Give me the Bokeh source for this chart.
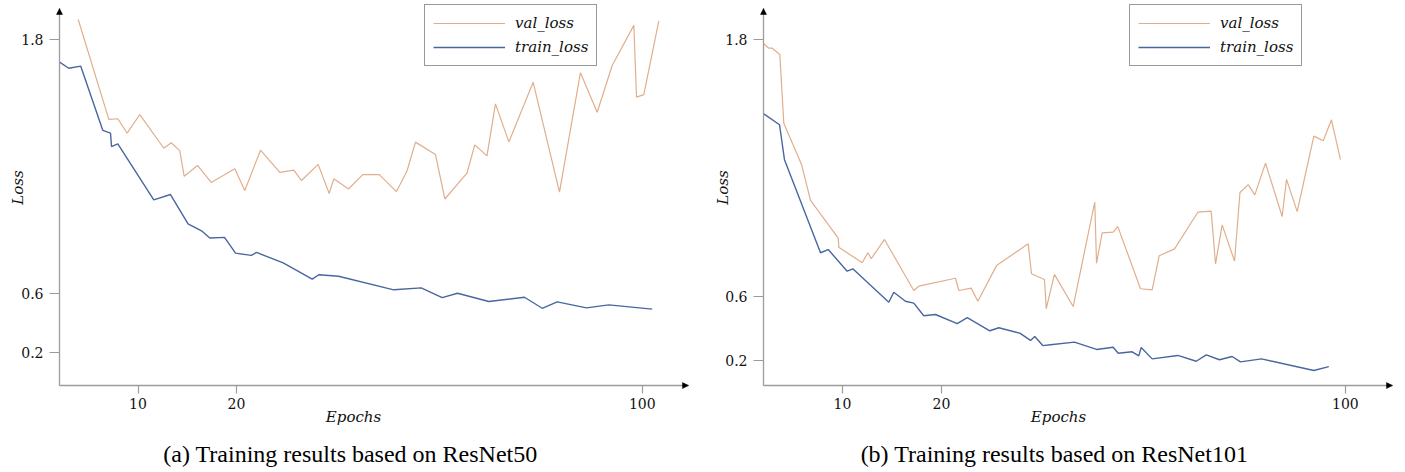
from bokeh.plotting import figure
from bokeh.models import (FixedTicker, Legend, LegendItem, Label, Arrow, NormalHead,
                          Range1d, LinearAxis)
from bokeh.layouts import row
from bokeh.embed import file_html
from bokeh.resources import INLINE
import math

# ---------------- data ----------------
r50_val_epoch = [3.93, 7.04, 7.95, 8.90, 10.18, 12.62, 13.37, 14.24, 14.69, 16.04, 17.43, 19.83,
                 20.84, 22.44, 24.40, 25.82, 26.60, 28.29, 29.41, 29.88, 31.37, 32.82, 34.50, 36.24,
                 37.31, 38.17, 40.20, 41.15, 43.40, 44.19, 45.43, 46.29, 47.65, 50.12, 52.79, 54.92,
                 56.62, 58.14, 60.34, 60.61, 61.35, 62.87]
r50_val_loss = [1.893, 1.422, 1.425, 1.357, 1.445, 1.286, 1.312, 1.275, 1.154, 1.205, 1.125, 1.189,
                1.087, 1.277, 1.172, 1.183, 1.134, 1.210, 1.073, 1.142, 1.094, 1.162, 1.162, 1.082,
                1.179, 1.315, 1.257, 1.047, 1.169, 1.302, 1.250, 1.495, 1.316, 1.597, 1.079, 1.642,
                1.456, 1.676, 1.865, 1.527, 1.539, 1.885]
r50_train_epoch = [2.00, 2.97, 4.19, 6.43, 7.21, 7.31, 7.95, 11.60, 13.30, 15.08, 16.45, 17.29,
                   18.78, 19.90, 21.50, 22.03, 24.74, 27.69, 28.36, 30.36, 35.97, 38.75, 40.88,
                   42.44, 45.61, 49.24, 51.04, 52.56, 55.53, 57.80, 62.20]
r50_train_loss = [1.693, 1.663, 1.673, 1.370, 1.357, 1.294, 1.307, 1.043, 1.068, 0.930, 0.897, 0.863,
                  0.866, 0.792, 0.781, 0.795, 0.746, 0.669, 0.690, 0.683, 0.619, 0.628, 0.582,
                  0.603, 0.564, 0.584, 0.532, 0.562, 0.534, 0.548, 0.528]

r101_val_epoch = [2.05, 2.56, 2.90, 3.67, 4.07, 5.86, 6.77, 9.57, 9.63, 11.99, 12.56, 12.90, 14.24,
                  17.20, 17.71, 21.41, 21.75, 23.00, 23.67, 25.56, 28.76, 29.09, 30.40, 30.58, 31.41,
                  33.30, 35.48, 35.66, 36.23, 37.34, 37.81, 40.10, 41.28, 41.99, 43.54, 45.89, 47.24,
                  47.68, 48.35, 49.60, 50.15, 50.98, 51.65, 52.73, 54.41, 54.85, 55.93, 57.61, 58.56,
                  59.39, 60.30]
r101_val_loss = [1.779, 1.758, 1.758, 1.729, 1.408, 1.216, 1.048, 0.872, 0.830, 0.757, 0.804, 0.776,
                 0.866, 0.628, 0.648, 0.685, 0.628, 0.639, 0.578, 0.744, 0.846, 0.706, 0.679, 0.543,
                 0.703, 0.553, 1.040, 0.755, 0.897, 0.900, 0.926, 0.636, 0.631, 0.790, 0.822, 0.993,
                 0.998, 0.752, 0.934, 0.765, 1.085, 1.122, 1.074, 1.222, 0.973, 1.146, 0.996, 1.348,
                 1.326, 1.424, 1.238]
r101_train_epoch = [2.05, 3.64, 4.14, 7.78, 8.56, 10.47, 11.04, 14.68, 15.18, 16.36, 17.20, 18.21,
                    19.39, 21.59, 22.60, 24.88, 25.79, 27.91, 28.99, 29.42, 30.23, 31.01, 33.43,
                    35.66, 37.34, 37.85, 39.26, 39.93, 40.17, 41.28, 43.87, 45.73, 46.74, 48.08,
                    49.36, 50.20, 52.32, 57.61, 59.12]
r101_train_loss = [1.452, 1.401, 1.238, 0.804, 0.819, 0.718, 0.729, 0.573, 0.620, 0.578, 0.569, 0.510,
                   0.516, 0.473, 0.501, 0.440, 0.454, 0.429, 0.395, 0.413, 0.371, 0.375, 0.387,
                   0.353, 0.363, 0.335, 0.342, 0.323, 0.362, 0.309, 0.325, 0.298, 0.328, 0.305,
                   0.320, 0.295, 0.309, 0.255, 0.273]

x_tick_labels = ["10", "20", "100"]
y_tick_labels = ["0.2", "0.6", "1.8"]
r50_x_tick_pos = [10, 20, 61.2]
r50_y_tick_pos = [0.324, 0.6, 1.8]
r101_x_tick_pos = [10, 20, 60.8]
r101_y_tick_pos = [0.301, 0.6, 1.8]

series_names = ["val_loss", "train_loss"]
captions = ["(a) Training results based on ResNet50", "(b) Training results based on ResNet101"]
x_label = "Epochs"
y_label = "Loss"

# ---------------- styling / layout ----------------
VAL_COLOR = "#e1ae8d"
TRAIN_COLOR = "#4a66a0"
AXIS_COLOR = "#9c9c9c"
TICK_FONT = "DejaVu Serif"
ITALIC_FONT = "DejaVu Serif"
CAPTION_FONT = "Liberation Serif"
H = 468
AXIS_TOP_PX = 8
AXIS_BOTTOM_PX = 385


def make_panel(canvas_left, width, px10, px_per_epoch, py18, px_per_unit,
               axis_left_px, axis_right_px,
               val_x, val_y, tr_x, tr_y, xt, yt, caption,
               ylabel_px, epochs_cx, caption_cx, legend_left, legend_top):
    # page-pixel <-> data helpers (the whole canvas is the plotting frame)
    def dx(px):
        return 10 + (px - px10) / px_per_epoch

    def dy(py):
        return 1.8 - (py - py18) / px_per_unit

    xr = (dx(canvas_left), dx(canvas_left + width))
    yr = (dy(H), dy(0))
    p = figure(width=width, height=H, output_backend="svg", toolbar_location=None,
               x_range=Range1d(*xr), y_range=Range1d(*yr), title=None,
               x_axis_location=None, y_axis_location=None)
    p.min_border = 0
    p.min_border_left = 0
    p.min_border_right = 0
    p.min_border_top = 0
    p.min_border_bottom = 0
    p.outline_line_color = None
    p.grid.visible = False
    p.background_fill_color = "white"
    p.border_fill_color = "white"

    x0, x1 = dx(axis_left_px), dx(axis_right_px)
    y0, y1 = dy(AXIS_BOTTOM_PX), dy(AXIS_TOP_PX)

    xaxis = LinearAxis(fixed_location=y0, bounds=(x0, x1), ticker=FixedTicker(ticks=xt),
                       major_label_overrides={t: l for t, l in zip(xt, x_tick_labels)},
                       major_tick_out=8, major_tick_in=0, major_label_standoff=4)
    yaxis = LinearAxis(fixed_location=x0, bounds=(y0, y1), ticker=FixedTicker(ticks=yt),
                       major_label_overrides={t: l for t, l in zip(yt, y_tick_labels)},
                       major_tick_out=10, major_tick_in=0, major_label_standoff=6)
    for ax in (xaxis, yaxis):
        ax.axis_line_color = AXIS_COLOR
        ax.axis_line_width = 1.3
        ax.major_tick_line_color = AXIS_COLOR
        ax.major_tick_line_width = 1.2
        ax.minor_tick_line_color = None
        ax.major_label_text_font = TICK_FONT
        ax.major_label_text_font_size = "14px"
        ax.major_label_text_color = "#111111"
    p.add_layout(xaxis, "below")
    p.add_layout(yaxis, "left")

    # arrow heads at the axis ends
    p.add_layout(Arrow(end=NormalHead(size=6, fill_color="black", line_color="black", line_width=0.5),
                       x_start=x1 - 1, y_start=y0, x_end=x1, y_end=y0, line_color=None))
    p.add_layout(Arrow(end=NormalHead(size=6, fill_color="black", line_color="black", line_width=0.5),
                       x_start=x0, y_start=y1 - 0.05, x_end=x0, y_end=y1, line_color=None))

    r_val = p.line(val_x, val_y, line_color=VAL_COLOR, line_width=1.2)
    r_tr = p.line(tr_x, tr_y, line_color=TRAIN_COLOR, line_width=1.4)

    legend = Legend(items=[LegendItem(label=series_names[0], renderers=[r_val]),
                           LegendItem(label=series_names[1], renderers=[r_tr])],
                    location=(legend_left - canvas_left, H - (legend_top + 60)),
                    border_line_color="#333333", border_line_width=1,
                    background_fill_color="white", background_fill_alpha=1,
                    padding=8, spacing=4, margin=0, label_standoff=10,
                    glyph_width=72, glyph_height=20, label_height=20,
                    label_text_font=ITALIC_FONT, label_text_font_style="italic",
                    label_text_font_size="15px", label_text_color="#111111")
    p.add_layout(legend, "center")

    p.add_layout(Label(x=dx(ylabel_px), y=dy(187), text=y_label, angle=math.pi / 2,
                       text_align="center", text_baseline="middle",
                       text_font=ITALIC_FONT, text_font_style="italic",
                       text_font_size="15px", text_color="#111111"))
    p.add_layout(Label(x=dx(epochs_cx), y=dy(416.5), text=x_label,
                       text_align="center", text_baseline="middle",
                       text_font=ITALIC_FONT, text_font_style="italic",
                       text_font_size="15px", text_color="#111111"))
    p.add_layout(Label(x=dx(caption_cx), y=dy(453.5), text=caption,
                       text_align="center", text_baseline="middle",
                       text_font=CAPTION_FONT, text_font_size="24px", text_color="#000000"))
    return p


p1 = make_panel(0, 705, 137.5, 9.85, 38.7, 212.2, 59, 688,
                r50_val_epoch, r50_val_loss, r50_train_epoch, r50_train_loss,
                r50_x_tick_pos, r50_y_tick_pos, captions[0],
                ylabel_px=17.5, epochs_cx=353, caption_cx=350, legend_left=424, legend_top=6)
p2 = make_panel(705, 695, 842, 9.9, 38.7, 214.4, 763, 1392,
                r101_val_epoch, r101_val_loss, r101_train_epoch, r101_train_loss,
                r101_x_tick_pos, r101_y_tick_pos, captions[1],
                ylabel_px=722.5, epochs_cx=1058, caption_cx=1054, legend_left=1129, legend_top=6)

layout = row(p1, p2)
open("out.html", "w").write(file_html(layout, INLINE))
